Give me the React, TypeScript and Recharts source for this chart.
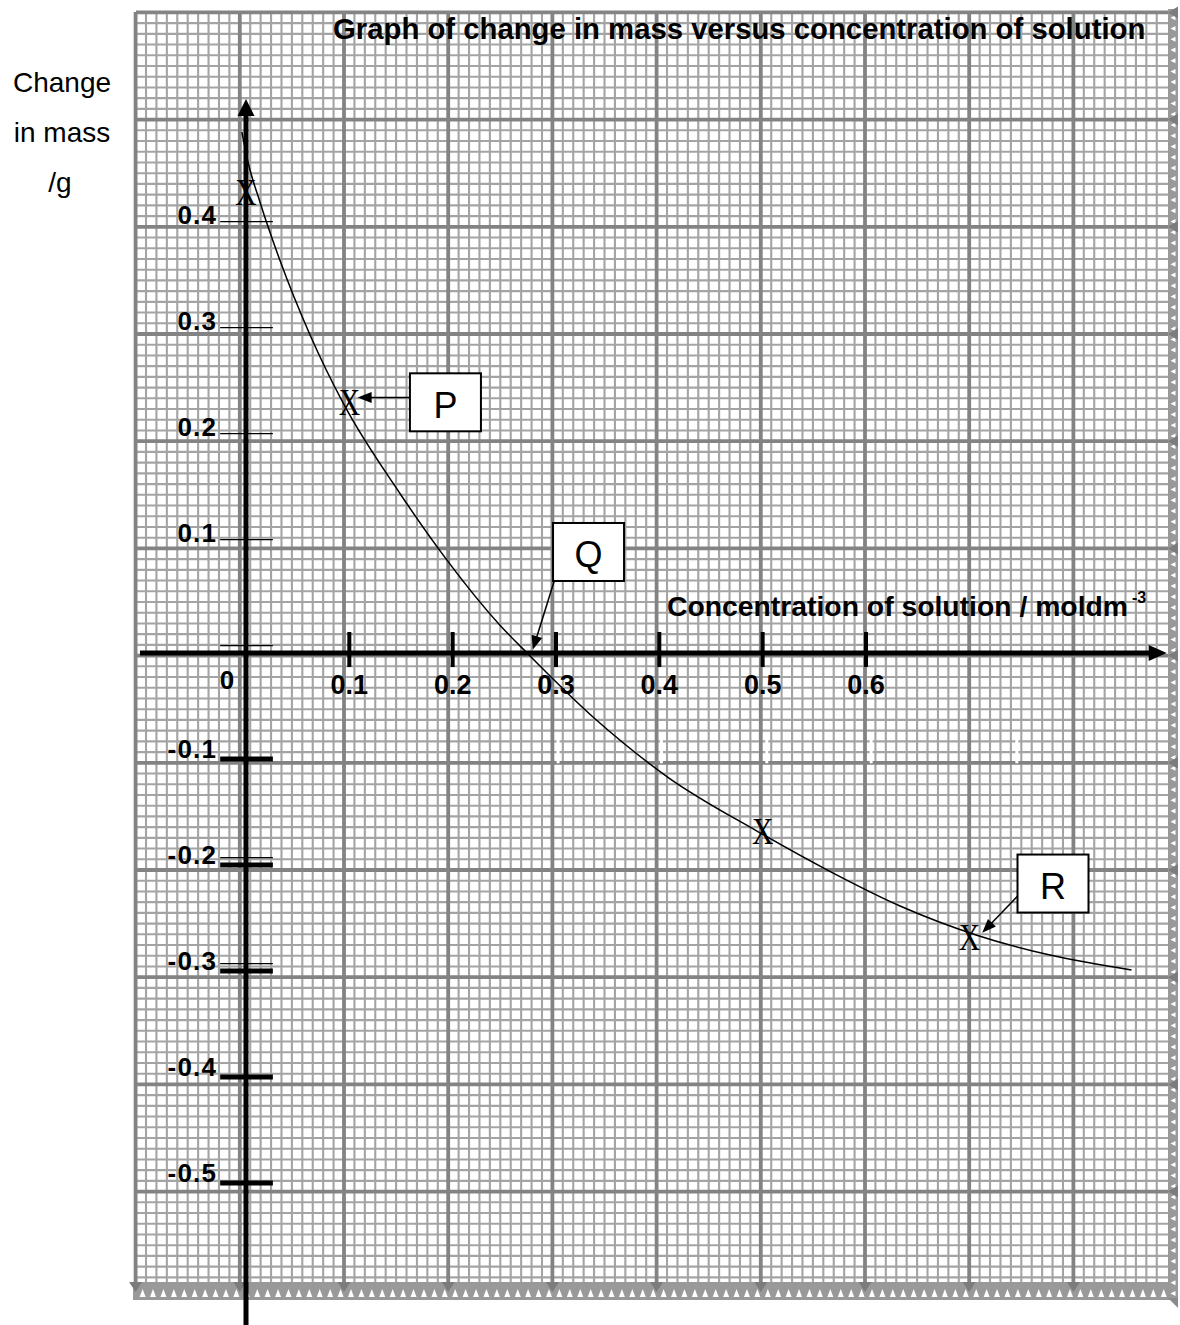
import React from 'react';
import {
  ComposedChart,
  Line,
  Scatter,
  XAxis,
  YAxis,
  CartesianGrid,
  ReferenceLine,
  ReferenceDot,
  Customized,
} from 'recharts';

// ---------- data ----------
// smooth curve of change in mass (g) against concentration (mol dm^-3)
const curveConcentration = [-0.004, 0.002, 0.0135, 0.033, 0.062, 0.095, 0.149, 0.1945, 0.246, 0.272, 0.338, 0.408, 0.4945, 0.565, 0.633, 0.7065, 0.778, 0.857];
const curveMassChange = [0.4915, 0.463, 0.4255, 0.37, 0.3, 0.234, 0.1505, 0.0876, 0.026, 0, -0.0623, -0.117, -0.168, -0.206, -0.2387, -0.266, -0.285, -0.299];

// plotted results, marked with a cross
const pointConcentration = [0, 0.1, 0.5, 0.7];
const pointMassChange = [0.434, 0.236, -0.168, -0.268];

// axis tick values
const xTickValues = [0.1, 0.2, 0.3, 0.4, 0.5, 0.6];
const xTickLabels = ['0.1', '0.2', '0.3', '0.4', '0.5', '0.6'];
const yUpperTickValues = [0.4, 0.3, 0.2, 0.1, 0, -0.2, -0.3];
const yUpperTickLabels = ['0.4', '0.3', '0.2', '0.1', '', '', ''];
const yLowerTickValues = [-0.1, -0.2, -0.3, -0.4, -0.5];
const yLowerTickLabels = ['-0.1', '-0.2', '-0.3', '-0.4', '-0.5'];
const blankTickValues = [0.302, 0.402, 0.504, 0.605, 0.746];

// labelled points P, Q, R: box centre and arrow (from -> to)
const calloutNames = ['P', 'Q', 'R'];
const calloutBoxX = [0.193, 0.3315, 0.781];
const calloutBoxY = [0.2365, 0.0953, -0.2175];
const calloutFromX = [0.159, 0.305, 0.747];
const calloutFromY = [0.241, 0.089, -0.229];
const calloutToX = [0.108, 0.2775, 0.7125];
const calloutToY = [0.241, 0.003, -0.264];

// ---------- layout ----------
const CHART_W = 1180;
const CHART_H = 1325;
const PLOT_LEFT = 136;
const PLOT_TOP = 12;
const PLOT_RIGHT = 1168;
const PLOT_BOTTOM = 1282;
const X_ZERO_PX = 246;
const X_PX_PER_UNIT = 1033.3;
const Y_ZERO_PX = 653;
const Y_PX_PER_UNIT = 1060;
const X_DOMAIN: [number, number] = [
  (PLOT_LEFT - X_ZERO_PX) / X_PX_PER_UNIT,
  (PLOT_RIGHT - X_ZERO_PX) / X_PX_PER_UNIT,
];
const Y_DOMAIN: [number, number] = [
  (Y_ZERO_PX - PLOT_BOTTOM) / Y_PX_PER_UNIT,
  (Y_ZERO_PX - PLOT_TOP) / Y_PX_PER_UNIT,
];
// the upper set of thin rulings sits a little above its nominal value
const UPPER_TICK_LIFT = 0.007;

const SANS = "'Liberation Sans', Arial, Helvetica, sans-serif";
const SERIF = "'Liberation Serif', 'Times New Roman', serif";

// graph-paper rulings (pixel spacing of the printed paper)
const GRID_X0 = 135.6;
const GRID_DX = 10.42;
const GRID_Y0 = 12.4;
const GRID_DY = 10.72;
const vMinor: number[] = [];
const vMajor: number[] = [];
for (let i = 0; GRID_X0 + i * GRID_DX < PLOT_RIGHT - 1; i++) {
  const p = GRID_X0 + i * GRID_DX;
  (i % 10 === 0 ? vMajor : vMinor).push(p);
}
const hMinor: number[] = [];
const hMajor: number[] = [];
for (let j = 0; GRID_Y0 + j * GRID_DY < PLOT_BOTTOM - 1; j++) {
  const p = GRID_Y0 + j * GRID_DY;
  (j % 10 === 0 ? hMajor : hMinor).push(p);
}

const curveData = curveConcentration.map((x, i) => ({ x, y: curveMassChange[i] }));
const pointData = pointConcentration.map((x, i) => ({ x, y: pointMassChange[i] }));

// ---------- shapes ----------
const arrowShape = (width: number, headLen: number, headWidth: number) => (p: any) => {
  const { x1, y1, x2, y2 } = p;
  const dx = x2 - x1;
  const dy = y2 - y1;
  const len = Math.hypot(dx, dy) || 1;
  const ux = dx / len;
  const uy = dy / len;
  const bx = x2 - ux * headLen;
  const by = y2 - uy * headLen;
  const nx = (-uy * headWidth) / 2;
  const ny = (ux * headWidth) / 2;
  return (
    <g>
      <line x1={x1} y1={y1} x2={bx + ux} y2={by + uy} stroke="#000" strokeWidth={width} />
      <polygon points={`${x2},${y2} ${bx + nx},${by + ny} ${bx - nx},${by - ny}`} fill="#000" />
    </g>
  );
};

const tickShape = (width: number, color: string, label: string, kind: 'x' | 'yUpper' | 'yLower') => (p: any) => {
  const { x1, y1, x2, y2 } = p;
  let text = null;
  if (label && kind === 'x') {
    text = (
      <text x={x1} y={694} textAnchor="middle" fontFamily={SANS} fontWeight="bold" fontSize={27} fill="#000">
        {label}
      </text>
    );
  } else if (label) {
    const left = Math.min(x1, x2);
    text = (
      <text
        x={left - 3}
        y={kind === 'yUpper' ? y1 + 2 : y1 - 1}
        textAnchor="end"
        fontFamily={SANS}
        fontWeight="bold"
        fontSize={26}
        letterSpacing={1.2}
        fill="#000"
      >
        {label}
      </text>
    );
  }
  return (
    <g>
      <line x1={x1} y1={y1} x2={x2} y2={y2} stroke={color} strokeWidth={width} />
      {text}
    </g>
  );
};

const crossShape = (p: any) => {
  const { cx, cy } = p;
  return (
    <text
      transform={`translate(${cx} ${cy}) scale(0.8 1)`}
      x={0}
      y={12.5}
      textAnchor="middle"
      fontFamily={SERIF}
      fontSize={37}
      fill="#000"
    >
      X
    </text>
  );
};

const boxShape = (name: string) => (p: any) => {
  const { cx, cy } = p;
  return (
    <g>
      <rect x={cx - 35.5} y={cy - 29} width={71} height={58} fill="#fff" stroke="#000" strokeWidth={2} />
      <text x={cx} y={cy + 15.5} textAnchor="middle" fontFamily={SANS} fontSize={36} fill="#000">
        {name}
      </text>
    </g>
  );
};

// ---------- paper decoration and headings ----------
const PaperEdges = () => {
  const items: React.ReactNode[] = [];
  items.push(<rect key="bs" x={133} y={PLOT_BOTTOM} width={1045} height={18} fill="#999999" />);
  for (let i = 0; GRID_X0 + i * GRID_DX < 1176; i++) {
    const cx = GRID_X0 + i * GRID_DX + 7;
    if (cx > 1166) break;
    items.push(
      <polygon key={`bt${i}`} points={`${cx},1289 ${cx - 3},1297 ${cx + 3},1297`} fill="#fff" />
    );
  }
  vMajor.forEach((x, i) =>
    items.push(<polygon key={`bd${i}`} points={`${x - 6.5},1282 ${x + 6.5},1282 ${x},1292`} fill="#7c7c7c" />)
  );
  items.push(<rect key="rs" x={PLOT_RIGHT} y={9} width={10} height={1291} fill="#999999" />);
  for (let j = 0; GRID_Y0 + j * GRID_DY < 1290; j++) {
    const cy = GRID_Y0 + j * GRID_DY + 5.4;
    items.push(
      <polygon key={`rt${j}`} points={`${PLOT_RIGHT + 2.5},${cy} ${PLOT_RIGHT + 7.5},${cy - 2.5} ${PLOT_RIGHT + 7.5},${cy + 2.5}`} fill="#fff" />
    );
  }
  hMajor.forEach((y, j) =>
    items.push(<polygon key={`rd${j}`} points={`${PLOT_RIGHT},${y} ${PLOT_RIGHT + 10},${y - 6} ${PLOT_RIGHT + 10},${y + 6}`} fill="#7c7c7c" />)
  );
  items.push(<polygon key="corner" points={`${PLOT_RIGHT},1298 ${PLOT_RIGHT + 10},1298 ${PLOT_RIGHT + 10},1308`} fill="#8a8a8a" />);
  return <g>{items}</g>;
};

const Headings = () => (
  <g fontFamily={SANS} fill="#000">
    <text x={333} y={39} fontSize={29.3} fontWeight="bold">
      Graph of change in mass versus concentration of solution
    </text>
    <text x={62} y={92} fontSize={28} textAnchor="middle">Change</text>
    <text x={62} y={142} fontSize={28} textAnchor="middle">in mass</text>
    <text x={60} y={192} fontSize={28} textAnchor="middle">/g</text>
    <text x={667} y={616} fontSize={27} fontWeight="bold" textLength={461} lengthAdjust="spacingAndGlyphs">
      Concentration of solution / moldm
    </text>
    <text x={1132} y={603} fontSize={16} fontWeight="bold">-3</text>
    <text x={227} y={689} fontSize={26} fontWeight="bold" textAnchor="middle">0</text>
  </g>
);

export default function App() {
  return (
    <div style={{ position: 'absolute', left: 0, top: 0, width: CHART_W, height: CHART_H, background: '#fff' }}>
      <ComposedChart
        width={CHART_W}
        height={CHART_H}
        margin={{ top: PLOT_TOP, right: CHART_W - PLOT_RIGHT, bottom: CHART_H - PLOT_BOTTOM, left: PLOT_LEFT }}
      >
        <XAxis type="number" dataKey="x" domain={X_DOMAIN} allowDataOverflow hide />
        <YAxis type="number" dataKey="y" domain={Y_DOMAIN} allowDataOverflow hide />
        <Customized component={Headings} />
        <CartesianGrid verticalPoints={vMinor} horizontalPoints={hMinor} stroke="#a4a4a4" strokeWidth={2.1} />
        <CartesianGrid verticalPoints={vMajor} horizontalPoints={hMajor} stroke="#838383" strokeWidth={3.8} />
        <Customized component={PaperEdges} />

        {blankTickValues.map((v) => (
          <ReferenceLine
            key={`blank${v}`}
            segment={[{ x: v, y: -0.0745 }, { x: v, y: -0.104 }]}
            ifOverflow="visible"
            stroke="#fff"
            strokeWidth={3}
          />
        ))}

        <Line
          data={curveData}
          dataKey="y"
          type="monotone"
          stroke="#000"
          strokeWidth={1.5}
          dot={false}
          activeDot={false}
          isAnimationActive={false}
        />

        {/* coordinate axes */}
        <ReferenceLine
          segment={[{ x: 0, y: -0.64 }, { x: 0, y: 0.5226 }]}
          ifOverflow="visible"
          shape={arrowShape(5, 17, 17)}
        />
        <ReferenceLine
          segment={[{ x: -0.1026, y: 0 }, { x: 0.891, y: 0 }]}
          ifOverflow="visible"
          shape={arrowShape(5, 18, 16)}
        />

        {xTickValues.map((v, i) => (
          <ReferenceLine
            key={`xt${v}`}
            segment={[{ x: v, y: 0.0198 }, { x: v, y: -0.0132 }]}
            ifOverflow="visible"
            shape={tickShape(4, '#000', xTickLabels[i], 'x')}
          />
        ))}
        {yUpperTickValues.map((v, i) => (
          <ReferenceLine
            key={`yu${v}`}
            segment={[{ x: -0.025, y: v + UPPER_TICK_LIFT }, { x: 0.026, y: v + UPPER_TICK_LIFT }]}
            ifOverflow="visible"
            shape={tickShape(1.3, '#000', yUpperTickLabels[i], 'yUpper')}
          />
        ))}
        {yLowerTickValues.map((v, i) => (
          <ReferenceLine
            key={`yl${v}`}
            segment={[{ x: -0.025, y: v }, { x: 0.026, y: v }]}
            ifOverflow="visible"
            shape={tickShape(5, '#000', yLowerTickLabels[i], 'yLower')}
          />
        ))}

        <Scatter data={pointData} dataKey="y" shape={crossShape} isAnimationActive={false} />

        {calloutNames.map((name, i) => (
          <ReferenceDot
            key={`box${name}`}
            x={calloutBoxX[i]}
            y={calloutBoxY[i]}
            r={0}
            ifOverflow="visible"
            shape={boxShape(name)}
          />
        ))}
        {calloutNames.map((name, i) => (
          <ReferenceLine
            key={`arrow${name}`}
            segment={[{ x: calloutFromX[i], y: calloutFromY[i] }, { x: calloutToX[i], y: calloutToY[i] }]}
            ifOverflow="visible"
            shape={arrowShape(1.5, 14, 11)}
          />
        ))}
      </ComposedChart>
    </div>
  );
}
